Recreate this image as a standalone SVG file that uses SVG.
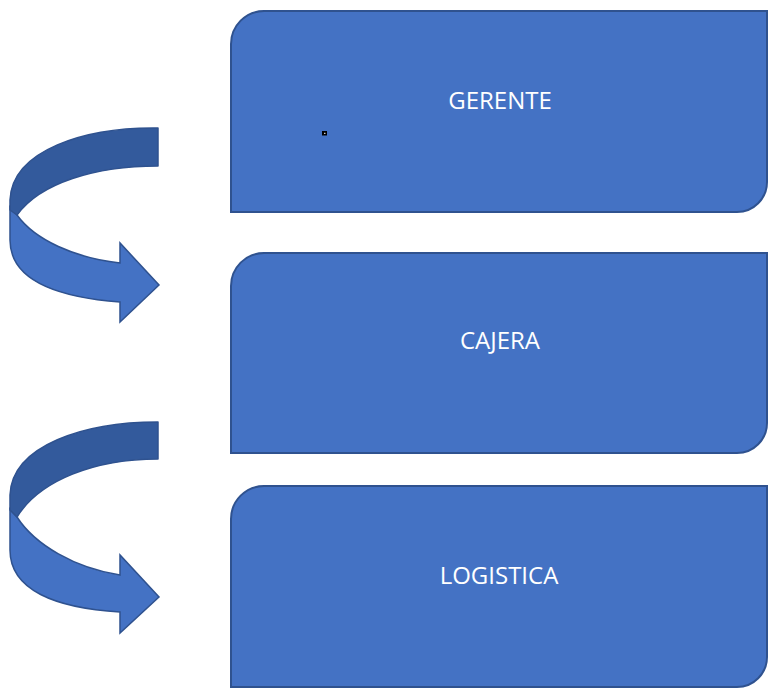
<svg xmlns="http://www.w3.org/2000/svg" width="769" height="688" viewBox="0 0 769 688">
  <style>
    .box { fill: #4472C4; stroke: #2F528F; stroke-width: 2; }
    .label { fill: #FFFFFF; font-family: "Open Sans", "Noto Sans", "Liberation Sans", sans-serif; font-size: 24px; text-anchor: middle; }
    .band-back { fill: #335A9C; stroke: #2F528F; stroke-width: 1.5; stroke-linejoin: round; }
    .band-front { fill: #4472C4; stroke: #2F528F; stroke-width: 1.5; stroke-linejoin: miter; }
  </style>
  <rect width="769" height="688" fill="#FFFFFF"/>

  <!-- curved arrows between the levels -->
  <g id="connectors">
    <g id="arrow-gerente-cajera">
      <path class="band-front" d="M17,215 C35,240 75,258 120,263 L120,243 L159,285 L120,322 L120,302 C55,297 10,280 10,240 L10,207 Z"/>
      <path class="band-back" d="M158,128 C85,127 12,150 10,200 L10,210 L17,215 C40,183 95,166 158,166 Z"/>
    </g>
    <g id="arrow-cajera-logistica">
      <path class="band-front" d="M17,517 C35,545 75,568 120,575 L120,555 L159,597 L120,633 L120,612 C55,608 10,590 10,550 L10,509 Z"/>
      <path class="band-back" d="M158,422 C85,422 12,445 10,495 L10,510 L17,517 C40,480 95,459 158,459 Z"/>
    </g>
  </g>

  <!-- boxes: rounded top-left and bottom-right corners -->
  <g id="gerente">
    <path class="box" d="M264,11 L767,11 L767,182 A30,30 0 0 1 737,212 L231,212 L231,44 A33,33 0 0 1 264,11 Z"/>
    <text class="label" x="500" y="109">GERENTE</text>
    <rect x="322" y="131" width="5" height="4.5" fill="#000000"/>
    <rect x="324" y="132.8" width="1.5" height="1" fill="#FFFFFF"/>
  </g>
  <g id="cajera">
    <path class="box" d="M264,253 L767,253 L767,423 A30,30 0 0 1 737,453 L231,453 L231,286 A33,33 0 0 1 264,253 Z"/>
    <text class="label" x="500" y="349">CAJERA</text>
  </g>
  <g id="logistica">
    <path class="box" d="M264,486 L767,486 L767,657 A30,30 0 0 1 737,687 L231,687 L231,519 A33,33 0 0 1 264,486 Z"/>
    <text class="label" x="499" y="584">LOGISTICA</text>
  </g>
</svg>
